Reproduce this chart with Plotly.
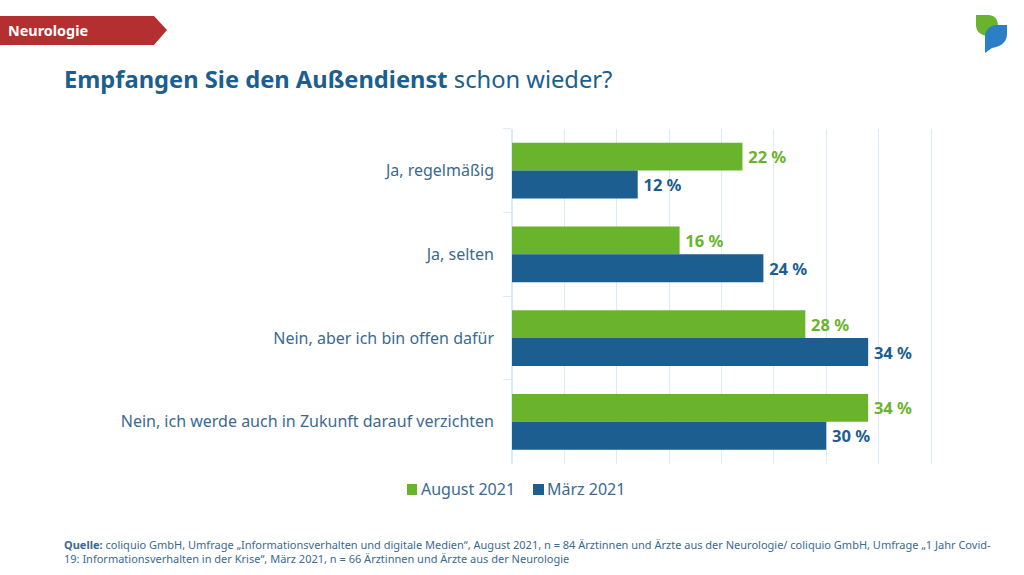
import plotly.graph_objects as go

categories = ["Ja, regelmäßig", "Ja, selten", "Nein, aber ich bin offen dafür",
              "Nein, ich werde auch in Zukunft darauf verzichten"]
august_2021 = [22, 16, 28, 34]
maerz_2021 = [12, 24, 34, 30]
series_names = ["August 2021", "März 2021"]
GREEN = "#69b32d"
BLUE = "#1b5e8f"
TEXT = "#3a6a90"
GRID = "#dcebf7"
W, H = 1024, 575
FONT = "Noto Sans"


def px(x):
    return x / W


def py(y):
    return 1 - y / H


def path(points):
    return "M " + " L ".join(f"{px(x):.5f},{py(y):.5f}" for x, y in points) + " Z"


def labels(vals):
    return [f"<b>\u2009{v} %</b>" for v in vals]


fig = go.Figure()
for name, vals, col in [(series_names[0], august_2021, GREEN), (series_names[1], maerz_2021, BLUE)]:
    fig.add_bar(y=categories, x=vals, name=name, orientation="h", marker=dict(color=col, line_width=0),
                text=labels(vals), textposition="outside", cliponaxis=False, showlegend=False,
                textfont=dict(color=col, size=16.5, family=FONT))

shapes = [
    dict(type="path", xref="paper", yref="paper", line_width=0, fillcolor="#b32f30",
         path=path([(0, 16), (154, 16), (167, 30), (154, 45), (0, 45)])),
    dict(type="path", xref="paper", yref="paper", line_width=0, fillcolor=GREEN,
         path=f"M {px(976):.5f},{py(15):.5f} L {px(988):.5f},{py(15):.5f} "
              f"C {px(1000):.5f},{py(16):.5f} {px(998):.5f},{py(25):.5f} {px(998):.5f},{py(36):.5f} "
              f"C {px(985):.5f},{py(38):.5f} {px(976):.5f},{py(34):.5f} {px(976):.5f},{py(25):.5f} Z"),
    dict(type="path", xref="paper", yref="paper", line_width=0, fillcolor="#2a7fc6",
         path=f"M {px(1007):.5f},{py(25):.5f} L {px(1007):.5f},{py(34):.5f} "
              f"C {px(1007):.5f},{py(44):.5f} {px(998):.5f},{py(47):.5f} {px(992):.5f},{py(48):.5f} "
              f"L {px(985):.5f},{py(53):.5f} L {px(985):.5f},{py(38):.5f} "
              f"C {px(985):.5f},{py(30):.5f} {px(990):.5f},{py(25):.5f} {px(997):.5f},{py(25):.5f} Z"),
    dict(type="rect", xref="paper", yref="paper", line_width=0, fillcolor=GREEN,
         x0=px(407), x1=px(417), y0=py(484), y1=py(495)),
    dict(type="rect", xref="paper", yref="paper", line_width=0, fillcolor=BLUE,
         x0=px(533), x1=px(544), y0=py(484), y1=py(495)),
]

annotations = [
    dict(text="<b>Neurologie</b>", x=px(9), y=py(30), font=dict(size=14.4, color="white", family=FONT)),
    dict(text="<b>Empfangen Sie den Außendienst</b> schon wieder?", x=px(64.5), y=py(78.8),
         font=dict(size=23.7, color=BLUE, family=FONT)),
    dict(text=series_names[0], x=px(421.5), y=py(489), font=dict(size=16, color=TEXT, family=FONT)),
    dict(text=series_names[1], x=px(547.5), y=py(489), font=dict(size=16, color=TEXT, family=FONT)),
    dict(text="<b>Quelle:</b> coliquio GmbH, Umfrage „Informationsverhalten und digitale Medien“, August 2021, "
              "n = 84 Ärztinnen und Ärzte aus der Neurologie/ coliquio GmbH, Umfrage „1 Jahr Covid-<br>"
              "19: Informationsverhalten in der Krise“, März 2021, n = 66 Ärztinnen und Ärzte aus der Neurologie",
         x=px(64.5), y=py(551), align="left", font=dict(size=11, color=TEXT, family=FONT)),
]
for a in annotations:
    a.update(xref="paper", yref="paper", xanchor="left", yanchor="middle", showarrow=False,
             xshift=-1, borderpad=0, borderwidth=0)

fig.update_layout(
    width=W, height=H, autosize=False, margin=dict(l=0, r=0, t=0, b=0),
    paper_bgcolor="white", plot_bgcolor="white", barmode="group", bargap=1 / 3, bargroupgap=0,
    font=dict(family=FONT, color=TEXT),
    shapes=shapes, annotations=annotations, showlegend=False,
    xaxis=dict(domain=[px(512), px(932.05)], range=[0, 40.1], dtick=5, showticklabels=False, showgrid=True,
               gridcolor=GRID, gridwidth=1, zeroline=True, zerolinecolor=GRID, showline=False, ticks=""),
    yaxis=dict(domain=[py(463.7), py(128.7)], autorange="reversed", type="category", ticks="outside",
               tickson="boundaries", ticklen=8, tickcolor=GRID, showgrid=False, showline=False,
               ticklabelstandoff=17,
               tickfont=dict(size=16, color=TEXT, family=FONT), automargin=False),
)
fig.write_html("out.html", config=dict(displayModeBar=False),
               post_script="document.body.style.margin='0';")
